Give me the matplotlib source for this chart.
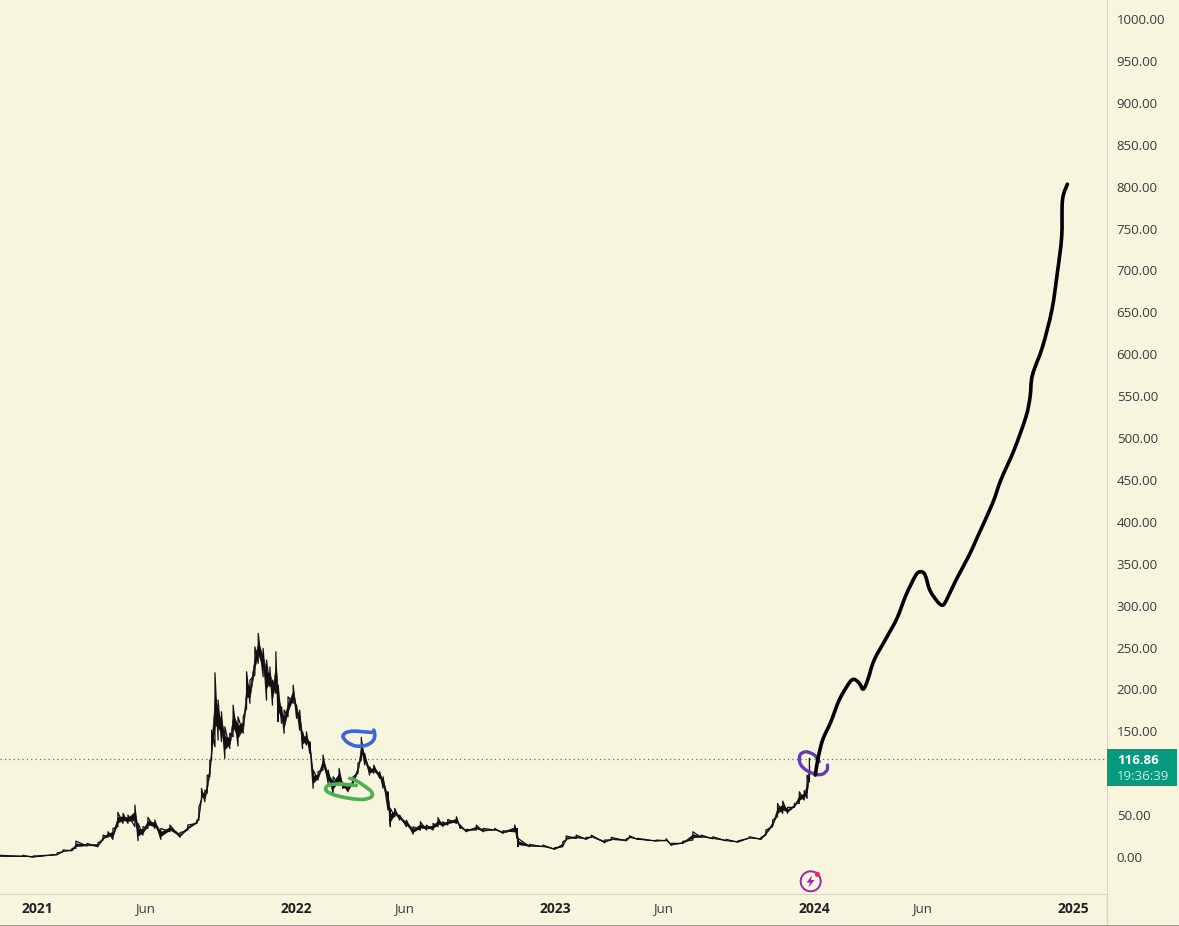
import matplotlib
matplotlib.use("Agg")
import matplotlib.pyplot as plt
import numpy as np
from matplotlib.patches import Rectangle, Circle, Polygon, Arc, PathPatch
from matplotlib.path import Path

# price band, time in decimal years
years = [2020.857, 2020.946, 2020.985, 2021.077, 2021.100, 2021.135, 2021.150, 2021.193, 2021.235, 2021.255,
         2021.274, 2021.293, 2021.312, 2021.332, 2021.351, 2021.378, 2021.390, 2021.409, 2021.428, 2021.455,
         2021.478, 2021.513, 2021.552, 2021.582, 2021.617, 2021.625, 2021.635, 2021.648, 2021.657, 2021.667,
         2021.674, 2021.687, 2021.699, 2021.712, 2021.725, 2021.744, 2021.757, 2021.776, 2021.796, 2021.809,
         2021.822, 2021.841, 2021.854, 2021.873, 2021.886, 2021.899, 2021.909, 2021.922, 2021.931, 2021.944,
         2021.954, 2021.969, 2021.989, 2022.002, 2022.014, 2022.025, 2022.040, 2022.053, 2022.066, 2022.085,
         2022.104, 2022.124, 2022.143, 2022.166, 2022.181, 2022.201, 2022.220, 2022.239, 2022.252, 2022.265,
         2022.284, 2022.300, 2022.323, 2022.336, 2022.355, 2022.364, 2022.381, 2022.400, 2022.426, 2022.452,
         2022.480, 2022.503, 2022.529, 2022.548, 2022.567, 2022.586, 2022.619, 2022.634, 2022.657, 2022.696,
         2022.722, 2022.767, 2022.799, 2022.844, 2022.853, 2022.857, 2022.902, 2022.953, 2022.998, 2023.030,
         2023.043, 2023.082, 2023.120, 2023.140, 2023.191, 2023.217, 2023.275, 2023.287, 2023.319, 2023.390,
         2023.429, 2023.448, 2023.493, 2023.532, 2023.564, 2023.609, 2023.660, 2023.705, 2023.750, 2023.795,
         2023.814, 2023.840, 2023.859, 2023.879, 2023.898, 2023.924, 2023.943, 2023.962, 2023.973, 2023.982]
highs = [2.0, 2.0, 1.2, 4.8, 8.4, 10.4, 19.0, 16.3, 17.0, 26.2,
         30.2, 34.2, 53.3, 52.1, 50.1, 62.0, 40.2, 36.2, 47.4, 44.1,
         34.2, 38.2, 29.0, 38.2, 44.1, 60.0, 82.0, 80.0, 97.8, 115.7,
         151.5, 219.9, 187.3, 173.4, 155.4, 147.6, 181.3, 167.4, 167.4, 221.0,
         211.2, 250.9, 266.9, 249.0, 235.0, 227.0, 211.2, 244.9, 205.2, 179.3,
         175.4, 191.2, 205.2, 181.3, 175.4, 149.5, 149.5, 137.6, 103.8, 101.8,
         121.7, 103.8, 95.8, 105.8, 87.9, 85.9, 95.8, 111.8, 142.8, 123.7,
         107.7, 109.8, 101.8, 95.8, 77.9, 58.1, 58.1, 50.1, 44.1, 36.2,
         42.1, 38.2, 40.2, 46.9, 42.1, 45.0, 48.1, 38.2, 33.0, 38.2,
         34.2, 34.2, 31.4, 38.2, 34.2, 22.3, 15.1, 14.3, 11.1, 18.3,
         25.1, 26.2, 23.5, 26.2, 20.3, 23.5, 21.8, 25.4, 22.3, 20.3,
         21.8, 16.3, 18.7, 30.2, 26.2, 24.2, 21.1, 19.1, 24.2, 23.5,
         32.2, 44.1, 64.0, 66.8, 59.3, 64.0, 77.9, 79.1, 97.8, 117.7]
lows = [1.2, 1.0, 0.0, 2.7, 6.4, 7.5, 10.4, 13.1, 12.3, 20.3,
        23.5, 21.1, 36.2, 40.2, 40.2, 36.2, 19.4, 26.2, 34.2, 34.2,
        21.1, 30.2, 23.5, 32.2, 40.2, 44.1, 68.0, 66.0, 76.0, 95.8,
        115.7, 131.6, 139.6, 137.6, 117.7, 129.7, 143.5, 132.4, 147.6, 177.4,
        183.4, 217.1, 231.1, 215.1, 187.3, 203.2, 181.3, 195.3, 161.4, 159.5,
        147.6, 167.4, 183.4, 165.5, 151.5, 129.7, 133.6, 123.7, 82.0, 91.9,
        103.8, 87.9, 76.0, 85.9, 82.0, 77.9, 85.9, 99.9, 115.7, 109.8,
        97.8, 99.9, 93.9, 82.0, 56.1, 36.2, 48.1, 44.1, 36.2, 27.4,
        32.2, 32.2, 32.2, 36.2, 36.2, 38.2, 40.2, 34.2, 30.2, 32.2,
        30.2, 32.2, 28.3, 30.2, 22.3, 12.3, 12.3, 12.3, 9.2, 12.3,
        20.3, 22.3, 21.1, 23.5, 17.1, 20.3, 19.4, 23.0, 21.1, 19.1,
        19.4, 14.0, 16.3, 20.3, 23.5, 21.8, 19.4, 17.9, 22.7, 21.1,
        26.2, 36.2, 48.1, 52.1, 52.1, 59.3, 64.0, 68.0, 70.0, 89.8]

# hand drawn forecast
draw_x = [2024.005, 2024.014, 2024.033, 2024.065, 2024.097, 2024.136, 2024.155, 2024.175, 2024.190, 2024.207,
          2024.232, 2024.278, 2024.320, 2024.355, 2024.393, 2024.413, 2024.429, 2024.447, 2024.477, 2024.496,
          2024.511, 2024.548, 2024.599, 2024.631, 2024.689, 2024.721, 2024.772, 2024.818, 2024.834, 2024.843,
          2024.882, 2024.918, 2024.939, 2024.956, 2024.959, 2024.978]
draw_y = [97.8, 115.7, 139.6, 161.4, 187.3, 207.9, 212.0, 207.2, 200.4, 211.2,
          235.0, 260.9, 284.8, 312.6, 336.4, 340.4, 336.4, 318.5, 304.6, 300.6,
          306.6, 330.5, 360.3, 382.1, 422.0, 449.8, 485.6, 525.3, 549.1, 575.0,
          608.8, 652.6, 696.4, 740.0, 783.8, 802.9]

# marker scribbles
blue_x = [2022.300, 2022.304, 2022.297, 2022.272, 2022.233, 2022.201, 2022.181, 2022.192, 2022.220, 2022.259, 2022.291]
blue_y = [151.5, 145.5, 138.7, 133.6, 132.4, 136.4, 143.5, 148.3, 150.3, 149.5, 148.8]
green_x = [2022.207, 2022.227, 2022.259, 2022.291, 2022.291, 2022.259, 2022.207, 2022.149, 2022.117, 2022.120, 2022.149, 2022.188, 2022.233]
green_y = [93.9, 91.9, 85.9, 77.9, 71.9, 68.8, 70.0, 74.0, 79.1, 84.7, 87.1, 86.7, 85.5]
purple_x = [2024.020, 2024.001, 2023.969, 2023.946, 2023.946, 2023.969, 2024.007, 2024.033, 2024.050, 2024.052]
purple_y = [113.7, 121.7, 125.6, 121.7, 111.8, 103.8, 98.7, 99.0, 103.8, 109.8]

last_price = 116.86
price_ticks = [0, 50, 150, 200, 250, 300, 350, 400, 450, 500, 550, 600, 650, 700, 750, 800, 850, 900, 950, 1000]
time_ticks = [2021, 2021 + 5 / 12, 2022, 2022 + 5 / 12, 2023, 2023 + 5 / 12, 2024, 2024 + 5 / 12, 2025]
time_labels = ["2021", "Jun", "2022", "Jun", "2023", "Jun", "2024", "Jun", "2025"]

BG = "#f8f5df"
GRID = "#d8d6c3"
W, H = 1179, 926


# round a freehand stroke through its points (catmull-rom as beziers)
def stroke(ax, x, y, color, lw, z):
    pts = np.column_stack([x, y])
    prev = np.vstack([pts[0], pts[:-1]])
    nxt = np.vstack([pts[1:], pts[-1]])
    tang = (nxt - prev) / 6
    verts = [pts[0]]
    codes = [Path.MOVETO]
    for i in range(len(pts) - 1):
        verts += [pts[i] + tang[i], pts[i + 1] - tang[i + 1], pts[i + 1]]
        codes += [Path.CURVE4] * 3
    ax.add_patch(PathPatch(Path(verts, codes), fill=False, edgecolor=color, lw=lw,
                           capstyle="round", joinstyle="round", zorder=z))


plt.rcParams["font.family"] = ["Open Sans", "DejaVu Sans"]
fig = plt.figure(figsize=(W / 100, H / 100), dpi=100, facecolor=BG)
ax = fig.add_axes([0, (H - 894) / H, 1107 / W, 894 / H], facecolor=BG)

# high/low zigzag, with a darker core where the range is wide
hi = np.array(highs)
lo = np.array(lows)
zig_x = np.repeat(years, 2)
zig_y = np.column_stack([lo, hi]).ravel()
ax.plot(zig_x, zig_y, color="#111111", lw=0.9, zorder=3)
ax.fill_between(years, lo + 0.3 * (hi - lo), hi - 0.3 * (hi - lo), color="#111111", lw=0.4, zorder=3)

ax.axhline(last_price, color="#089981", lw=0.9, ls=(0, (1, 2.5)), zorder=2)
stroke(ax, green_x, green_y, "#4caf50", 2.6, 4)
stroke(ax, blue_x, blue_y, "#3a67e0", 2.6, 4)
stroke(ax, purple_x, purple_y, "#673ab7", 2.4, 4)
stroke(ax, draw_x, draw_y, "black", 2.6, 5)

ax.set_xlim(2020.857, 2025.131)
ax.set_ylim(-44.1, 1022.7)
for side in ["top", "left"]:
    ax.spines[side].set_visible(False)
ax.spines["right"].set_color(GRID)
ax.spines["bottom"].set_color(GRID)

ax.yaxis.tick_right()
ax.set_yticks(price_ticks)
ax.set_yticklabels(["%.2f" % p for p in price_ticks])
ax.tick_params(axis="y", length=0, pad=7, labelsize=9.5, labelcolor="#3a3a3a")
ax.set_xticks(time_ticks)
ax.set_xticklabels(time_labels)
ax.tick_params(axis="x", length=0, pad=6, labelsize=9.5, labelcolor="#3a3a3a")
for lab in ax.get_xticklabels():
    if lab.get_text() != "Jun":
        lab.set_fontweight("bold")
        lab.set_fontsize(10)
        lab.set_color("#222222")

# chrome on top of the chart, in pixels
over = fig.add_axes([0, 0, 1, 1], facecolor="none")
over.set_xlim(0, W)
over.set_ylim(H, 0)
over.axis("off")
over.plot([1107, 1107], [894, 925], color=GRID, lw=1)
over.plot([0, W], [925.5, 925.5], color="#8f8f88", lw=1.2)
over.add_patch(Rectangle((1107, 749), 70, 37, color="#089981", lw=0))
over.text(1117, 760, "%.2f" % last_price, color="white", fontsize=9.5, fontweight="bold", va="center")
over.text(1117, 776, "19:36:39", color="#c8eee2", fontsize=9.5, va="center")

# lightning icon
over.add_patch(Arc((810.7, 881.3), 20, 20, theta1=-40, theta2=300, color="#9c27b0", lw=1.4))
over.add_patch(Polygon([(812, 875.5), (806.5, 882.5), (810, 882.5), (808.5, 887.5), (814.5, 880), (811, 880)],
                       color="#9c27b0", lw=0))
over.add_patch(Circle((817.3, 874.3), 2.6, color="#e5304f", lw=0))

fig.savefig("out.png", dpi=100, facecolor=BG)
